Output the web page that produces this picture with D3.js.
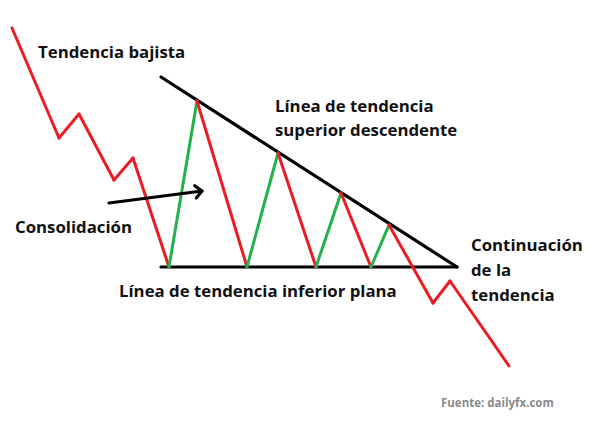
<!DOCTYPE html>
<html lang="es">
<head>
    <meta charset="utf-8">
    <title>Triángulo descendente</title>
    <style>
        body {
            margin: 0;
            background: #fff;
        }
        .label {
            font-family: "Open Sans", sans-serif;
            font-weight: bold;
            font-size: 16.8px;
            fill: #111;
        }
        .source {
            font-family: "Open Sans", sans-serif;
            font-weight: bold;
            font-size: 11.5px;
            fill: #8a8a8a;
        }
    </style>
</head>
<body>
<svg class="chart"></svg>
<script src="https://d3js.org/d3.v7.min.js"></script>
<script>
    // price path (time units on x, price units on y)
    const times  = [12, 59, 79, 114, 133, 169, 197, 247, 278, 316, 341, 371, 389, 433, 450, 509];
    const prices = [411, 301, 325, 259, 281, 172, 338, 172, 286, 172, 246, 172, 214, 136, 158, 73];
    const consStart = 5;   // index where consolidation starts
    const consEnd = 12;    // index where it ends (breakout)

    // trend lines of the triangle
    const upperTimes = [161, 457];
    const upperPrices = [362, 172];
    const lowerTimes = [161, 457];
    const lowerPrices = [172, 172];

    // arrow pointing into the consolidation
    const arrowTimes = [109, 202];
    const arrowPrices = [236, 248];

    const labels = ["Tendencia bajista", "Línea de tendencia", "superior descendente",
        "Consolidación", "Línea de tendencia inferior plana",
        "Continuación", "de la", "tendencia"];
    const sourceText = "Fuente: dailyfx.com";

    const width = 600;
    const height = 439;

    const x = d3.scaleLinear().domain([0, 600]).range([0, width]);
    const y = d3.scaleLinear().domain([0, 439]).range([height, 0]);

    const svg = d3.select(".chart")
        .attr("width", width)
        .attr("height", height);

    // segments of the price path
    var segs = [];
    for (var i = 0; i < times.length - 1; i++) {
        var up = prices[i + 1] > prices[i];
        var inside = i >= consStart && i < consEnd;
        segs.push({x1: times[i], y1: prices[i], x2: times[i + 1], y2: prices[i + 1],
            color: (up && inside) ? "#22b14c" : "#ed1c24"});
    }

    // black trend lines
    svg.append("line")
        .attr("x1", x(upperTimes[0])).attr("y1", y(upperPrices[0]))
        .attr("x2", x(upperTimes[1])).attr("y2", y(upperPrices[1]))
        .attr("stroke", "#000").attr("stroke-width", 3.2)
        .attr("stroke-linecap", "round");
    svg.append("line")
        .attr("x1", x(lowerTimes[0])).attr("y1", y(lowerPrices[0]))
        .attr("x2", x(lowerTimes[1])).attr("y2", y(lowerPrices[1]))
        .attr("stroke", "#000").attr("stroke-width", 3.2)
        .attr("stroke-linecap", "round");

    svg.selectAll(".seg")
        .data(segs)
        .enter().append("line")
        .attr("class", "seg")
        .attr("x1", d => x(d.x1)).attr("y1", d => y(d.y1))
        .attr("x2", d => x(d.x2)).attr("y2", d => y(d.y2))
        .attr("stroke", d => d.color)
        .attr("stroke-width", 3)
        .attr("stroke-linecap", "round");

    // arrow
    const ax1 = x(arrowTimes[0]), ay1 = y(arrowPrices[0]);
    const ax2 = x(arrowTimes[1]), ay2 = y(arrowPrices[1]);
    const ang = Math.atan2(ay2 - ay1, ax2 - ax1);
    const head = 9;
    svg.append("line")
        .attr("x1", ax1).attr("y1", ay1).attr("x2", ax2).attr("y2", ay2)
        .attr("stroke", "#000").attr("stroke-width", 3.2)
        .attr("stroke-linecap", "round");
    svg.append("path")
        .attr("d", d3.line()([
            [ax2 - head * Math.cos(ang - 0.75), ay2 - head * Math.sin(ang - 0.75)],
            [ax2, ay2],
            [ax2 - head * Math.cos(ang + 0.75), ay2 - head * Math.sin(ang + 0.75)]
        ]))
        .attr("fill", "none")
        .attr("stroke", "#000").attr("stroke-width", 3.2)
        .attr("stroke-linecap", "round")
        .attr("stroke-linejoin", "round");

    // labels
    const labelPos = [[38, 58], [275, 112], [275, 136], [15, 233], [119, 297],
        [471, 251], [471, 276], [471, 301]];
    svg.selectAll(".label")
        .data(labels)
        .enter().append("text")
        .attr("class", "label")
        .attr("x", (d, i) => labelPos[i][0])
        .attr("y", (d, i) => labelPos[i][1])
        .text(d => d);

    svg.append("text")
        .attr("class", "source")
        .attr("x", 441)
        .attr("y", 407)
        .text(sourceText);
</script>
</body>
</html>
